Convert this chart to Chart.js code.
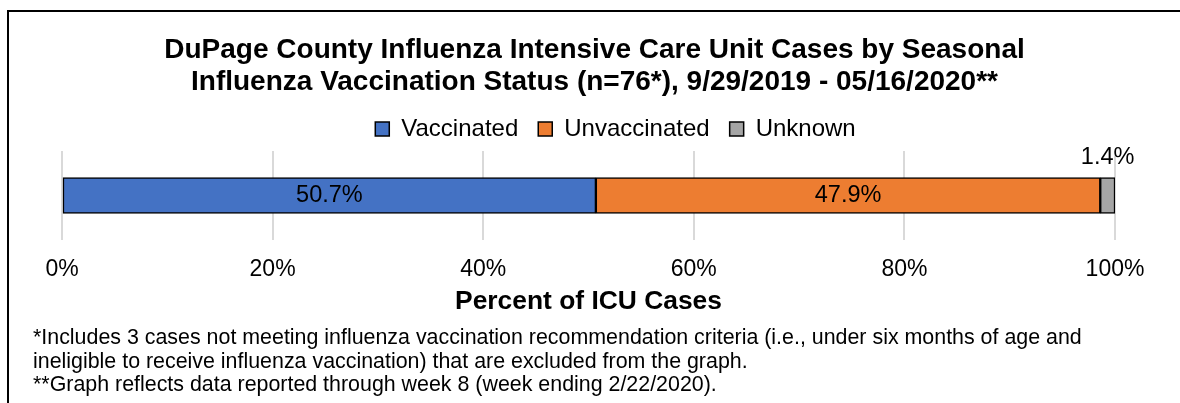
<!DOCTYPE html>
<html>
<head>
<meta charset="utf-8">
<script src="https://cdn.jsdelivr.net/npm/chart.js@4"></script>
<style>
  body { margin: 0; background: #fff; overflow: hidden; font-family: "Liberation Sans", Arial, sans-serif; }
  #frame { position: absolute; left: 7px; top: 10px; width: 1300px; height: 500px; border: 2px solid #000; }
  #chart { position: absolute; left: 0; top: 0; }
  #notes { position: absolute; left: 33px; top: 326px; font-size: 21.4px; line-height: 23.5px; color: #000; white-space: nowrap; }
</style>
</head>
<body>
<div id="frame"></div>
<canvas id="chart" width="1180" height="403"></canvas>
<div id="notes">
  *Includes 3 cases not meeting influenza vaccination recommendation criteria (i.e., under six months of age and<br>
  ineligible to receive influenza vaccination) that are excluded from the graph.<br>
  **Graph reflects data reported through week 8 (week ending 2/22/2020).
</div>
<script>
const FONT = "'Liberation Sans', Arial, sans-serif";

// data
const categories = ["ICU Cases"];
const vaccinated = [50.7];
const unvaccinated = [47.9];
const unknown = [1.4];
const seriesNames = ["Vaccinated", "Unvaccinated", "Unknown"];
const seriesColors = ["#4472C4", "#ED7D31", "#A5A5A5"];

// percent label in the middle of each segment, small ones go above the bar
const segmentLabels = {
  id: "segmentLabels",
  afterDatasetsDraw(chart) {
    const ctx = chart.ctx;
    ctx.save();
    ctx.font = "23.5px " + FONT;
    ctx.fillStyle = "#000";
    ctx.textAlign = "center";
    ctx.textBaseline = "middle";
    chart.data.datasets.forEach((ds, i) => {
      chart.getDatasetMeta(i).data.forEach((bar, j) => {
        const v = ds.data[j];
        const x = (bar.x + bar.base) / 2;
        const y = v < 5 ? bar.y - bar.height / 2 - 20 : bar.y;
        ctx.fillText(v.toFixed(1) + "%", x, y);
      });
    });
    ctx.restore();
  }
};

// Excel centres title and legend a bit right of the plot
const nudgeBoxes = {
  id: "nudgeBoxes",
  afterLayout(chart) {
    chart.titleBlock.left += 6;
    chart.titleBlock.right += 6;
    chart.legend.left += 27;
    chart.legend.right += 27;
  }
};

new Chart(document.getElementById("chart"), {
  type: "bar",
  data: {
    labels: categories,
    datasets: [vaccinated, unvaccinated, unknown].map((d, i) => ({
      label: seriesNames[i],
      data: d,
      backgroundColor: seriesColors[i],
      borderColor: "#000",
      borderWidth: 1.5,
      borderSkipped: false,
      barThickness: 36
    }))
  },
  options: {
    indexAxis: "y",
    responsive: false,
    animation: false,
    devicePixelRatio: 1,
    layout: { padding: { top: 34, left: 62, right: 65, bottom: 85 } },
    scales: {
      x: {
        stacked: true,
        min: 0,
        max: 100,
        ticks: {
          stepSize: 20,
          padding: 16,
          color: "#000",
          font: { family: FONT, size: 23 },
          callback: (v) => v + "%"
        },
        grid: { color: "#d9d9d9", lineWidth: 2, drawTicks: false },
        border: { display: false },
        title: {
          display: true,
          text: "Percent of ICU Cases",
          color: "#000",
          font: { family: FONT, size: 26.4, weight: "bold" },
          padding: { top: -13.3, bottom: 0 }
        }
      },
      y: { stacked: true, display: false }
    },
    plugins: {
      title: {
        display: true,
        text: [
          "DuPage County Influenza Intensive Care Unit Cases by Seasonal",
          "Influenza Vaccination Status (n=76*), 9/29/2019 - 05/16/2020**"
        ],
        color: "#000",
        font: { family: FONT, size: 28, weight: "bold", lineHeight: 32 / 28 },
        padding: { top: 0, bottom: -1 }
      },
      legend: {
        labels: {
          boxWidth: 14,
          boxHeight: 14,
          padding: 20,
          color: "#000",
          font: { family: FONT, size: 24 }
        }
      },
      tooltip: { enabled: false }
    }
  },
  plugins: [segmentLabels, nudgeBoxes]
});
</script>
</body>
</html>
